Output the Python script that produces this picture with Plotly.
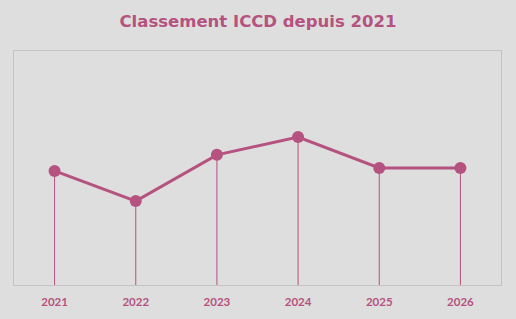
import plotly.graph_objects as go

years = ["2021", "2022", "2023", "2024", "2025", "2026"]
rank_values = [3.9, 2.87, 4.45, 5.06, 4.0, 4.0]

color = "#b5527f"
fig = go.Figure()
fig.add_trace(go.Scatter(
    x=years, y=rank_values, mode="lines+markers",
    line=dict(color=color, width=3),
    marker=dict(size=12, color=color),
    error_y=dict(type="data", symmetric=False, array=[0]*len(rank_values),
                 arrayminus=rank_values, width=0, thickness=1, color=color),
    hoverinfo="x+y", showlegend=False,
))
fig.update_layout(
    width=516, height=319,
    margin=dict(l=14, r=15, t=51, b=34),
    paper_bgcolor="#dedede", plot_bgcolor="#dedede",
    title=dict(text="<b>Classement ICCD depuis 2021</b>", x=0.5, xanchor="center",
               y=1 - 21.5/319, yanchor="middle",
               font=dict(family="DejaVu Sans", size=16.5, color=color)),
    xaxis=dict(type="category", range=[-0.5, 5.5], showgrid=False, zeroline=False,
               showline=True, linecolor="#c3c3c3", linewidth=1, mirror=True,
               automargin=False,
               ticks="", tickfont=dict(family="Lato", size=11.5, color=color),
               ticklabelstandoff=6),
    yaxis=dict(range=[0, 8], showgrid=False, zeroline=False, showticklabels=False,
               automargin=False,
               showline=True, linecolor="#c3c3c3", linewidth=1, mirror=True, ticks=""),
)
fig.update_xaxes(tickprefix="<b>", ticksuffix="</b>")
fig.write_html("out.html")
